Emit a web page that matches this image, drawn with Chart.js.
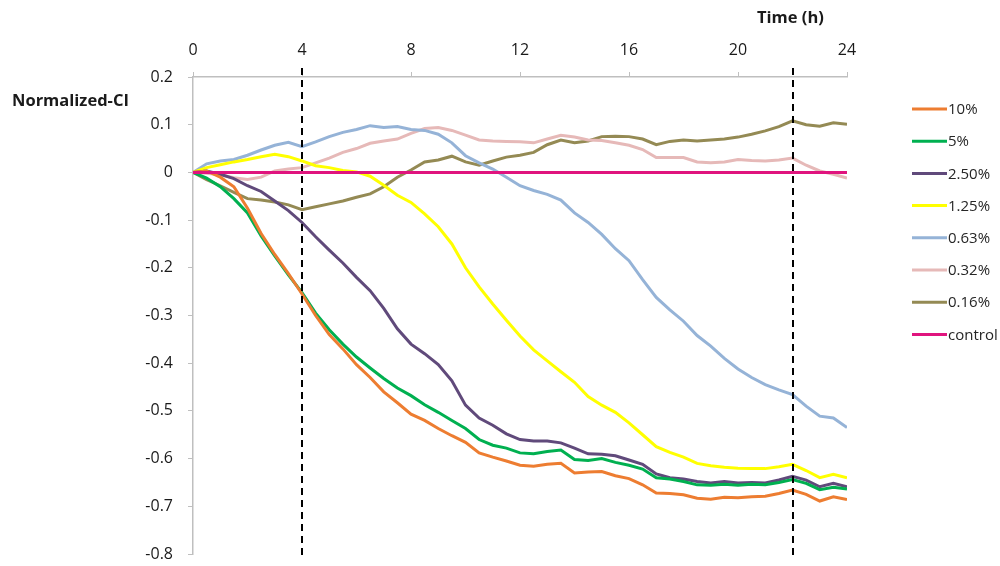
<!DOCTYPE html>
<html>
<head>
<meta charset="utf-8">
<script src="https://cdn.jsdelivr.net/npm/chart.js@4/dist/chart.umd.min.js"></script>
<style>
  html, body { margin: 0; padding: 0; background: #ffffff; }
  #wrap { position: relative; width: 1000px; height: 566px; }
</style>
</head>
<body>
<div id="wrap"><canvas id="c" width="1000" height="566"></canvas></div>
<script>
// Time axis (hours), sampled every half hour
const hours = [0,0.5,1,1.5,2,2.5,3,3.5,4,4.5,5,5.5,6,6.5,7,7.5,8,8.5,9,9.5,10,10.5,11,11.5,12,12.5,13,13.5,14,14.5,15,15.5,16,16.5,17,17.5,18,18.5,19,19.5,20,20.5,21,21.5,22,22.5,23,23.5,24];

const xTicks = [0, 4, 8, 12, 16, 20, 24];
const yTicks = [0.2, 0.1, 0, -0.1, -0.2, -0.3, -0.4, -0.5, -0.6, -0.7, -0.8];
const markerHours = [4, 22];

const seriesNames = ['10%', '5%', '2.50%', '1.25%', '0.63%', '0.32%', '0.16%', 'control'];
const seriesColors = ['#ED7D31', '#00B050', '#604A7B', '#FFFF00', '#95B3D7', '#E6B9B8', '#948A54', '#E0147E'];

const conc10 = [0,0.003,-0.01,-0.03,-0.075,-0.128,-0.172,-0.212,-0.255,-0.3,-0.34,-0.37,-0.403,-0.43,-0.46,-0.483,-0.507,-0.52,-0.537,-0.552,-0.566,-0.588,-0.597,-0.605,-0.614,-0.616,-0.612,-0.61,-0.63,-0.628,-0.627,-0.636,-0.642,-0.655,-0.672,-0.673,-0.676,-0.683,-0.685,-0.681,-0.682,-0.68,-0.679,-0.673,-0.666,-0.675,-0.689,-0.68,-0.686];
const conc5 = [0,-0.012,-0.03,-0.055,-0.085,-0.133,-0.175,-0.215,-0.252,-0.295,-0.33,-0.36,-0.387,-0.41,-0.432,-0.452,-0.468,-0.487,-0.503,-0.52,-0.537,-0.56,-0.572,-0.578,-0.588,-0.59,-0.585,-0.582,-0.602,-0.604,-0.6,-0.608,-0.614,-0.622,-0.64,-0.643,-0.648,-0.655,-0.656,-0.654,-0.656,-0.654,-0.655,-0.65,-0.644,-0.652,-0.665,-0.66,-0.664];
const conc2_5 = [0,0.003,-0.004,-0.013,-0.028,-0.04,-0.06,-0.08,-0.105,-0.135,-0.163,-0.19,-0.22,-0.248,-0.285,-0.328,-0.36,-0.38,-0.403,-0.437,-0.488,-0.515,-0.53,-0.548,-0.56,-0.563,-0.563,-0.567,-0.578,-0.59,-0.591,-0.594,-0.603,-0.612,-0.632,-0.64,-0.643,-0.648,-0.651,-0.648,-0.651,-0.65,-0.651,-0.645,-0.637,-0.645,-0.659,-0.652,-0.659];
const conc1_25 = [0,0.01,0.016,0.022,0.027,0.033,0.038,0.033,0.024,0.014,0.01,0.004,0.001,-0.008,-0.027,-0.048,-0.063,-0.087,-0.114,-0.15,-0.2,-0.24,-0.276,-0.31,-0.343,-0.372,-0.395,-0.418,-0.44,-0.47,-0.488,-0.503,-0.525,-0.55,-0.575,-0.587,-0.597,-0.61,-0.615,-0.618,-0.62,-0.621,-0.621,-0.617,-0.612,-0.625,-0.64,-0.633,-0.64];
const conc0_63 = [0,0.018,0.024,0.027,0.036,0.047,0.057,0.063,0.054,0.064,0.075,0.084,0.09,0.098,0.094,0.096,0.09,0.088,0.08,0.062,0.035,0.02,0.007,-0.01,-0.028,-0.038,-0.046,-0.058,-0.085,-0.105,-0.13,-0.16,-0.185,-0.225,-0.262,-0.288,-0.312,-0.342,-0.364,-0.39,-0.412,-0.43,-0.445,-0.456,-0.466,-0.49,-0.511,-0.515,-0.535];
const conc0_32 = [0,-0.002,-0.005,-0.011,-0.015,-0.01,0.003,0.007,0.01,0.02,0.03,0.042,0.05,0.061,0.066,0.07,0.082,0.092,0.094,0.088,0.078,0.068,0.066,0.065,0.064,0.062,0.07,0.078,0.074,0.068,0.067,0.062,0.057,0.048,0.031,0.031,0.031,0.022,0.02,0.022,0.027,0.025,0.024,0.026,0.03,0.015,0.003,-0.004,-0.012];
const conc0_16 = [0,-0.015,-0.028,-0.042,-0.055,-0.058,-0.062,-0.068,-0.078,-0.072,-0.066,-0.06,-0.052,-0.045,-0.03,-0.01,0.005,0.022,0.026,0.034,0.022,0.015,0.024,0.032,0.036,0.042,0.058,0.068,0.062,0.066,0.075,0.076,0.075,0.07,0.058,0.065,0.068,0.066,0.068,0.07,0.074,0.08,0.087,0.096,0.108,0.1,0.097,0.104,0.101];
const control = hours.map(() => 0);

const seriesValues = [conc10, conc5, conc2_5, conc1_25, conc0_63, conc0_32, conc0_16, control];

const FONT = '"Open Sans", "Noto Sans", sans-serif';
const AXIS_GRAY = '#BFBFBF';

const datasets = seriesNames.map((name, i) => ({
  label: name,
  data: hours.map((h, k) => ({ x: h, y: seriesValues[i][k] })),
  borderColor: seriesColors[i],
  backgroundColor: seriesColors[i],
  borderWidth: 3,
  pointRadius: 0,
  tension: 0,
  fill: false,
  order: name === 'control' ? 0 : i + 1
}));

// Dashed vertical markers, axis captions and the legend column
const overlay = {
  id: 'overlay',
  afterDatasetsDraw(chart) {
    const { ctx, chartArea, scales } = chart;
    ctx.save();
    ctx.strokeStyle = '#000000';
    ctx.lineWidth = 2;
    ctx.setLineDash([7, 5]);
    markerHours.forEach(h => {
      const px = Math.round(scales.x.getPixelForValue(h));
      ctx.beginPath();
      ctx.moveTo(px, chartArea.top - 9);
      ctx.lineTo(px, chartArea.bottom + 2);
      ctx.stroke();
    });
    ctx.restore();
  },
  afterDraw(chart) {
    const { ctx } = chart;
    ctx.save();
    ctx.fillStyle = '#1a1a1a';
    ctx.font = 'bold 16.5px ' + FONT;
    ctx.textBaseline = 'middle';
    ctx.textAlign = 'left';
    ctx.fillText('Normalized-CI', 12, 101);
    ctx.fillText('Time (h)', 757, 18);

    // legend
    ctx.font = '15px ' + FONT;
    chart.data.datasets.forEach((ds, i) => {
      const y = 109 + i * 32.2;
      ctx.strokeStyle = ds.borderColor;
      ctx.lineWidth = 3;
      ctx.beginPath();
      ctx.moveTo(912, y);
      ctx.lineTo(947, y);
      ctx.stroke();
      ctx.fillStyle = '#262626';
      ctx.fillText(ds.label, 948, y + 1);
    });
    ctx.restore();
  }
};

new Chart(document.getElementById('c'), {
  type: 'line',
  data: { datasets },
  options: {
    responsive: false,
    animation: false,
    devicePixelRatio: 1,
    layout: { padding: { left: 0, top: 0, right: 153, bottom: 12 } },
    plugins: { legend: { display: false }, tooltip: { enabled: false } },
    scales: {
      x: {
        type: 'linear',
        position: 'top',
        min: 0,
        max: 24,
        afterBuildTicks(scale) { scale.ticks = xTicks.map(v => ({ value: v })); },
        afterFit(scale) { scale.height = 77; scale.paddingLeft = 0; scale.paddingRight = 0; },
        ticks: {
          color: '#1a1a1a',
          font: { family: FONT, size: 16 },
          padding: 12,
          maxRotation: 0,
          callback: v => String(v)
        },
        grid: { drawOnChartArea: false, color: AXIS_GRAY, tickLength: 5, lineWidth: 1 },
        border: { color: AXIS_GRAY, width: 1.5 }
      },
      y: {
        type: 'linear',
        position: 'left',
        min: -0.8,
        max: 0.2,
        afterBuildTicks(scale) { scale.ticks = yTicks.map(v => ({ value: v })); },
        afterFit(scale) { scale.width = 193; scale.paddingTop = 0; scale.paddingBottom = 0; },
        ticks: {
          color: '#1a1a1a',
          font: { family: FONT, size: 16 },
          padding: 15,
          callback: v => String(Math.round(v * 10) / 10)
        },
        grid: { drawOnChartArea: false, color: AXIS_GRAY, tickLength: 5, lineWidth: 1 },
        border: { color: AXIS_GRAY, width: 1.5 }
      }
    }
  },
  plugins: [overlay]
});
</script>
</body>
</html>
